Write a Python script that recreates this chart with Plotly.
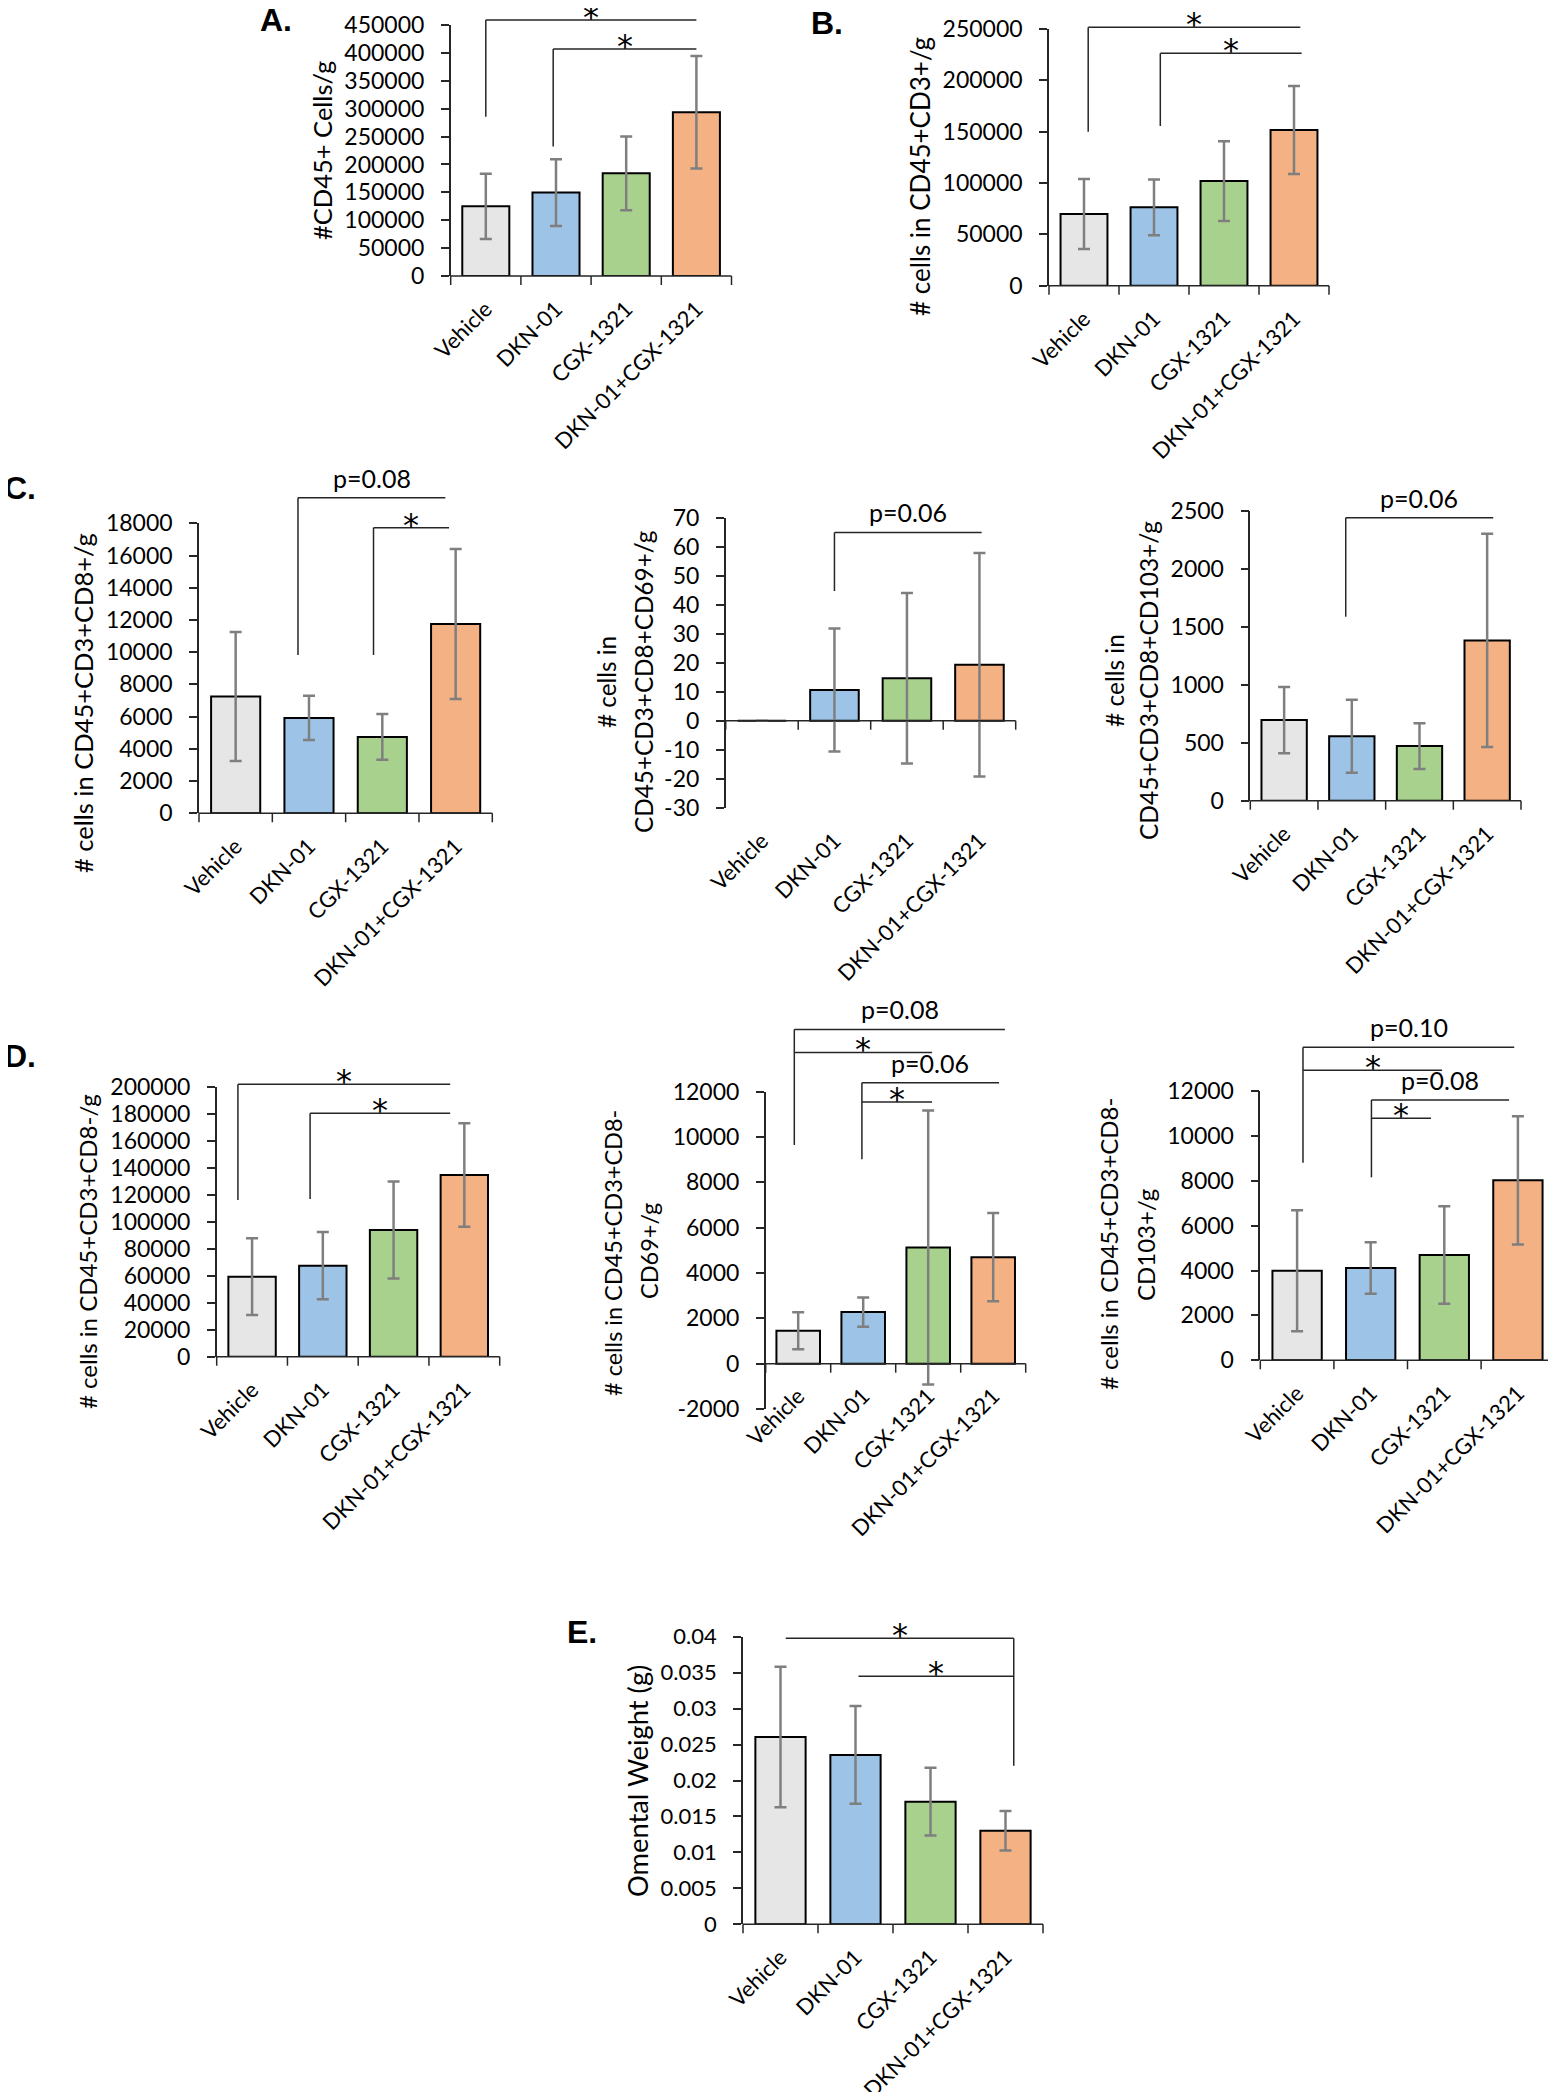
import numpy as np
import plotly.graph_objects as go

# ---------------- data ----------------
categories = ["Vehicle", "DKN-01", "CGX-1321", "DKN-01+CGX-1321"]
bar_colors = ["#E7E6E6", "#9DC3E6", "#A9D18E", "#F4B183"]

a_mean = [125000, 149500, 184000, 293500]
a_err = [58500, 59800, 66000, 100700]
b_mean = [69800, 76300, 101900, 151600]
b_err = [34000, 27100, 38800, 42900]
c1_mean = [7250, 5920, 4740, 11750]
c1_err = [4000, 1370, 1420, 4650]
c2_mean = [0, 10.6, 14.6, 19.3]
c2_err = [0, 21.2, 29.4, 38.5]
c3_mean = [695, 555, 471, 1382]
c3_err = [286, 315, 197, 920]
d1_mean = [59400, 67600, 94100, 134900]
d1_err = [28500, 24900, 36000, 38400]
d2_mean = [1454, 2277, 5126, 4700]
d2_err = [815, 646, 6050, 1950]
d3_mean = [3995, 4114, 4693, 8020]
d3_err = [2695, 1144, 2170, 2860]
e_mean = [0.02605, 0.02355, 0.01706, 0.01302]
e_err = [0.00978, 0.0068, 0.0047, 0.00274]

# significance brackets: (x start, x end, y top, y of leg foot, label, leg side)
a_br = [(0, 3, 459000, 285700, "*", "left"), (0.96, 3, 407000, 232000, "*", "left")]
b_br = [(0.06, 3.09, 251600, 150000, "*", "left"), (1.09, 3.11, 226300, 155500, "*", "left")]
c1_br = [(0.85, 2.86, 19593, 9828, "p=0.08", "left"), (1.88, 2.91, 17731, 9828, "*", "left")]
c2_br = [(1.0, 3.03, 64.9, 44.7, "p=0.06", "left")]
c3_br = [(0.91, 3.09, 2440, 1586, "p=0.06", "left")]
d1_br = [(-0.2, 2.8, 202200, 116300, "*", "left"), (0.82, 2.8, 180700, 117100, "*", "left")]
d2_br = [(-0.06, 3.18, 14747, 9650, "p=0.08", "left"), (-0.06, 2.06, 13734, None, "*", None),
         (0.98, 3.09, 12397, 9019, "p=0.06", "left"), (0.98, 2.06, 11545, None, "*", None)]
d3_br = [(0.08, 2.95, 13946, 8807, "p=0.10", "left"), (0.08, 1.97, 12921, None, "*", None),
         (1.01, 2.88, 11600, 8154, "p=0.08", "left"), (1.01, 1.82, 10783, None, "*", None)]
e_br = [(0.07, 3.11, 0.03977, 0.02206, "*", "right"), (1.04, 3.11, 0.03449, None, "*", None)]

# ---------------- layout helpers ----------------
FONT = "Lato"
OFF = 8
W, H = 1548, 2084


def fx(sx):
    return (sx - OFF) / W


def fy(sy):
    return 1 - (sy - OFF) / H


panels = [
    dict(mean=a_mean, err=a_err, ymin=0, ymax=450000, dtick=50000, box=(450.7, 731.5, 25, 276),
         titles=[("#CD45+ Cells/g", 322, 151)], tsize=25.5, letter=("A.", 258, 20), br=a_br),
    dict(mean=b_mean, err=b_err, ymin=0, ymax=250000, dtick=50000, box=(1049, 1329, 29, 285.7),
         titles=[("# cells in CD45+CD3+/g", 920, 177)], tsize=26, letter=("B.", 809, 23), br=b_br),
    dict(mean=c1_mean, err=c1_err, ymin=0, ymax=18000, dtick=2000, box=(199, 492.3, 523.3, 813.3),
         titles=[("# cells in CD45+CD3+CD8+/g", 83, 703)], tsize=25.5, letter=("C.", 2, 488), br=c1_br),
    dict(mean=c2_mean, err=c2_err, ymin=-30, ymax=70, dtick=10, box=(725.7, 1015.7, 517.7, 807.7),
         titles=[("# cells in", 606, 682), ("CD45+CD3+CD8+CD69+/g", 643, 682)], tsize=24.3,
         letter=None, br=c2_br),
    dict(mean=c3_mean, err=c3_err, ymin=0, ymax=2500, dtick=500, box=(1250.3, 1521, 510.7, 800.7),
         titles=[("# cells in", 1114, 681), ("CD45+CD3+CD8+CD103+/g", 1148, 681)], tsize=24.5,
         letter=None, br=c3_br),
    dict(mean=d1_mean, err=d1_err, ymin=0, ymax=200000, dtick=20000, box=(216.7, 499.7, 1087.3, 1356.7),
         titles=[("# cells in CD45+CD3+CD8-/g", 87, 1252)], tsize=24, letter=("D.", 2, 1056), br=d1_br),
    dict(mean=d2_mean, err=d2_err, ymin=-2000, ymax=12000, dtick=2000, box=(765.7, 1025.7, 1091.7, 1409),
         titles=[("# cells in CD45+CD3+CD8-", 613, 1253), ("CD69+/g", 649, 1251)], tsize=23.5,
         letter=None, br=d2_br, xstand=-31),
    dict(mean=d3_mean, err=d3_err, ymin=0, ymax=12000, dtick=2000, box=(1260.3, 1554.7, 1091, 1360.3),
         titles=[("# cells in CD45+CD3+CD8-", 1108, 1244), ("CD103+/g", 1145, 1245)], tsize=24,
         letter=None, br=d3_br),
    dict(mean=e_mean, err=e_err, ymin=0, ymax=0.04, dtick=0.005, box=(743, 1043, 1636.7, 1924.3),
         titles=[("Omental Weight (g)", 637, 1781)], tsize=27.3, letter=("E.", 565, 1632), br=e_br,
         ticksize=22),
]

fig = go.Figure()
shapes, annotations, axes = [], [], {}
LINE = "#262626"

for i, p in enumerate(panels, start=1):
    xa = "x" if i == 1 else f"x{i}"
    ya = "y" if i == 1 else f"y{i}"
    x0, x1, yt, yb = p["box"]
    ymin, ymax = p["ymin"], p["ymax"]
    span = ymax - ymin
    plot_h = yb - yt

    fig.add_trace(go.Bar(
        x=categories, y=p["mean"], xaxis=xa, yaxis=ya, showlegend=False, hoverinfo="skip",
        marker=dict(color=bar_colors, line=dict(color="black", width=2)),
        error_y=dict(type="data", array=p["err"], visible=True, color="#7F7F7F", thickness=2.5, width=6),
    ))

    ticks = np.round(np.arange(ymin, ymax + p["dtick"] / 2, p["dtick"]), 6)
    axes["xaxis" if i == 1 else f"xaxis{i}"] = dict(
        domain=[fx(x0), fx(x1)], anchor=ya, type="category", range=[-0.5, 3.5],
        showline=False, ticks="", showgrid=False, zeroline=False, tickangle=-45,
        tickfont=dict(family=FONT, size=22, color="black"), ticklabelstandoff=p.get("xstand", 15),
    )
    axes["yaxis" if i == 1 else f"yaxis{i}"] = dict(
        domain=[fy(yb), fy(yt)], anchor=xa, range=[ymin, ymax],
        tickvals=list(ticks), ticktext=[f"{t:g}" for t in ticks],
        showline=True, linecolor=LINE, linewidth=1.5, ticks="outside", ticklen=8, tickwidth=1.5,
        tickcolor=LINE, showgrid=False, zeroline=False, ticklabelstandoff=12,
        tickfont=dict(family=FONT, size=p.get("ticksize", 23), color="black"),
    )

    xd, yd = f"{xa} domain", f"{ya} domain"
    yz = (0 - ymin) / span
    shapes.append(dict(type="line", xref=xd, yref=yd, x0=0, x1=1, y0=yz, y1=yz,
                       line=dict(color=LINE, width=1.5)))
    for k in range(5):
        shapes.append(dict(type="line", xref=xd, yref=yd, x0=k / 4, x1=k / 4, y0=yz, y1=yz - 9 / plot_h,
                           line=dict(color=LINE, width=1.5)))

    for (bs, be, top, foot, label, leg) in p["br"]:
        xs, xe = (bs + 0.5) / 4, (be + 0.5) / 4
        ytop = (top - ymin) / span
        shapes.append(dict(type="line", xref=xd, yref=yd, x0=xs, x1=xe, y0=ytop, y1=ytop,
                           line=dict(color=LINE, width=1.5)))
        if leg is not None:
            lx = xs if leg == "left" else xe
            shapes.append(dict(type="line", xref=xd, yref=yd, x0=lx, x1=lx, y0=(foot - ymin) / span, y1=ytop,
                               line=dict(color=LINE, width=1.5)))
        if label == "*":
            annotations.append(dict(xref=xd, yref=yd, x=(xs + xe) / 2, y=ytop, text=label, showarrow=False,
                                    xanchor="center", yanchor="middle", yshift=3,
                                    font=dict(family="DejaVu Sans", size=32, color="black")))
        else:
            annotations.append(dict(xref=xd, yref=yd, x=(xs + xe) / 2, y=ytop, text=label, showarrow=False,
                                    xanchor="center", yanchor="bottom", yshift=3,
                                    font=dict(family=FONT, size=25, color="black")))

    for (txt, sx, sy) in p["titles"]:
        annotations.append(dict(xref="paper", yref="paper", x=fx(sx), y=fy(sy), text=txt, textangle=-90,
                                showarrow=False, xanchor="center", yanchor="middle",
                                font=dict(family=FONT, size=p["tsize"], color="black")))
    if p["letter"]:
        t, sx, sy = p["letter"]
        annotations.append(dict(xref="paper", yref="paper", x=fx(sx), y=fy(sy), text=f"<b>{t}</b>",
                                showarrow=False, xanchor="left", yanchor="middle",
                                font=dict(family="Liberation Sans", size=32, color="black")))

fig.update_layout(
    width=W, height=H, margin=dict(l=0, r=0, t=0, b=0, pad=0, autoexpand=False),
    paper_bgcolor="white", plot_bgcolor="white", bargap=0.33,
    shapes=shapes, annotations=annotations, font=dict(family=FONT, color="black"),
    **axes,
)
fig.write_html("out.html")
